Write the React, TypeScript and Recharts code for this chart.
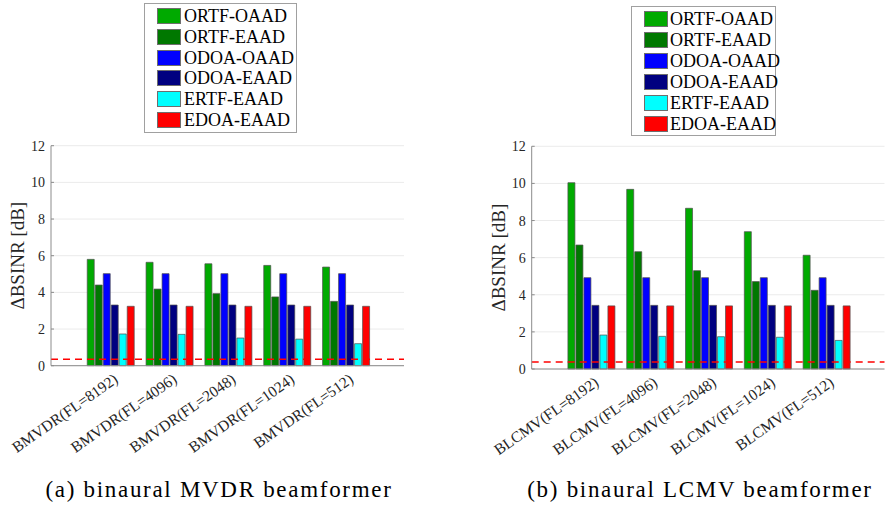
import { Bar, BarChart, CartesianGrid, Label, ReferenceLine, XAxis, YAxis } from 'recharts';

const FONT = "'Liberation Serif', 'DejaVu Serif', serif";

const seriesKeys = ['ortfOaad', 'ortfEaad', 'odoaOaad', 'odoaEaad', 'ertfEaad', 'edoaEaad'];
const seriesNames = ['ORTF-OAAD', 'ORTF-EAAD', 'ODOA-OAAD', 'ODOA-EAAD', 'ERTF-EAAD', 'EDOA-EAAD'];
const seriesColors = ['#00aa00', '#007800', '#0000ff', '#000080', '#00ffff', '#ff0000'];

const yTicks = [0, 2, 4, 6, 8, 10, 12];

// (a) binaural MVDR
const mvdrCategories = ['BMVDR(FL=8192)', 'BMVDR(FL=4096)', 'BMVDR(FL=2048)', 'BMVDR(FL=1024)', 'BMVDR(FL=512)'];
const mvdrOrtfOaad = [5.8, 5.64, 5.56, 5.47, 5.38];
const mvdrOrtfEaad = [4.4, 4.18, 3.93, 3.75, 3.51];
const mvdrOdoaOaad = [5.02, 5.02, 5.02, 5.02, 5.02];
const mvdrOdoaEaad = [3.31, 3.31, 3.31, 3.31, 3.31];
const mvdrErtfEaad = [1.73, 1.71, 1.51, 1.45, 1.2];
const mvdrEdoaEaad = [3.24, 3.24, 3.24, 3.24, 3.24];
const mvdrBaseline = 0.35;

// (b) binaural LCMV
const lcmvCategories = ['BLCMV(FL=8192)', 'BLCMV(FL=4096)', 'BLCMV(FL=2048)', 'BLCMV(FL=1024)', 'BLCMV(FL=512)'];
const lcmvOrtfOaad = [10.04, 9.68, 8.66, 7.4, 6.13];
const lcmvOrtfEaad = [6.68, 6.32, 5.3, 4.71, 4.24];
const lcmvOdoaOaad = [4.92, 4.92, 4.92, 4.92, 4.92];
const lcmvOdoaEaad = [3.43, 3.43, 3.43, 3.43, 3.43];
const lcmvErtfEaad = [1.83, 1.76, 1.74, 1.71, 1.54];
const lcmvEdoaEaad = [3.4, 3.4, 3.4, 3.4, 3.4];
const lcmvBaseline = 0.38;

function buildRows(categories: string[], values: number[][]) {
  return categories.map((name, i) => {
    const row: Record<string, string | number> = { name };
    seriesKeys.forEach((k, j) => {
      row[k] = values[j][i];
    });
    return row;
  });
}

const mvdrRows = buildRows(mvdrCategories, [mvdrOrtfOaad, mvdrOrtfEaad, mvdrOdoaOaad, mvdrOdoaEaad, mvdrErtfEaad, mvdrEdoaEaad]);
const lcmvRows = buildRows(lcmvCategories, [lcmvOrtfOaad, lcmvOrtfEaad, lcmvOdoaOaad, lcmvOdoaEaad, lcmvErtfEaad, lcmvEdoaEaad]);

function SlantTick({ x, y, payload }: any) {
  const ax = x + 3;
  const ay = y + 7;
  return (
    <text
      x={ax}
      y={ay}
      dy="0.7em"
      transform={`rotate(-35, ${ax}, ${ay})`}
      textAnchor="end"
      style={{ fontFamily: FONT }}
      fontSize={15.5}
      fill="#262626"
    >
      {payload.value}
    </text>
  );
}

type PanelProps = {
  rows: Record<string, string | number>[];
  baseline: number;
  left: number;
  width: number;
  axisWidth: number;
  plotTop: number;
  plotBottom: number;
  marginRight: number;
};

function Panel({ rows, baseline, left, width, axisWidth, plotTop, plotBottom, marginRight }: PanelProps) {
  return (
    <div style={{ position: 'absolute', left, top: 0 }}>
      <BarChart
        width={width}
        height={508}
        data={rows}
        margin={{ top: plotTop, right: marginRight, bottom: 0, left: 0 }}
        barCategoryGap="11.6%"
        barGap={1}
        style={{ fontFamily: FONT }}
      >
        <CartesianGrid vertical={false} stroke="#ebebeb" />
        <XAxis
          dataKey="name"
          interval={0}
          height={508 - plotBottom}
          padding={{ left: 29.4, right: 29.4 }}
          axisLine={{ stroke: '#8c8c8c' }}
          tickLine={false}
          tickSize={0}
          tickMargin={0}
          tick={<SlantTick />}
        />
        <YAxis
          width={axisWidth}
          domain={[0, 12]}
          ticks={yTicks}
          interval={0}
          axisLine={{ stroke: '#8c8c8c' }}
          tickLine={{ stroke: '#8c8c8c' }}
          tickSize={-3}
          tickMargin={9}
          tick={{ fontSize: 14, fill: '#262626', style: { fontFamily: FONT } }}
        >
          <Label
            content={({ viewBox }: any) => {
              const cx = viewBox.x + viewBox.width - 33;
              const cy = viewBox.y + viewBox.height / 2;
              return (
                <text
                  x={cx}
                  y={cy}
                  transform={`rotate(-90, ${cx}, ${cy})`}
                  textAnchor="middle"
                  dominantBaseline="central"
                  style={{ fontFamily: FONT }}
                  fontSize={19}
                  fill="#262626"
                >
                  ΔBSINR [dB]
                </text>
              );
            }}
          />
        </YAxis>
        {seriesKeys.map((k, i) => (
          <Bar
            key={k}
            dataKey={k}
            name={seriesNames[i]}
            fill={seriesColors[i]}
            stroke="#4d4d4d"
            strokeWidth={0.7}
            isAnimationActive={false}
          />
        ))}
        <ReferenceLine y={baseline} stroke="#ff0000" strokeWidth={1.5} strokeDasharray="7 5" />
      </BarChart>
    </div>
  );
}

function LegendBox({ left, top, width, height, pitch, textGap }: { left: number; top: number; width: number; height: number; pitch: number; textGap: number }) {
  return (
    <div
      style={{
        position: 'absolute',
        left,
        top,
        width,
        height,
        boxSizing: 'border-box',
        border: '1px solid #a0a0a0',
        background: '#fff',
      }}
    >
      {seriesNames.map((n, i) => (
        <div
          key={n}
          style={{
            position: 'absolute',
            left: 12,
            top: 4 + i * pitch,
            height: 16,
            display: 'flex',
            alignItems: 'center',
            whiteSpace: 'nowrap',
          }}
        >
          <div
            style={{
              width: 24,
              height: 16,
              boxSizing: 'border-box',
              border: '1px solid #6e6e6e',
              background: seriesColors[i],
              marginRight: textGap,
            }}
          />
          <span style={{ fontFamily: FONT, fontSize: 18, color: '#000', lineHeight: '16px' }}>{n}</span>
        </div>
      ))}
    </div>
  );
}

export default function App() {
  return (
    <div style={{ position: 'absolute', left: 0, top: 0, width: 885, height: 508, background: '#fff', overflow: 'hidden', fontFamily: FONT }}>
      <Panel rows={mvdrRows} baseline={mvdrBaseline} left={0} width={442} axisWidth={51} plotTop={145.7} plotBottom={365.7} marginRight={38} />
      <Panel rows={lcmvRows} baseline={lcmvBaseline} left={442} width={443} axisWidth={89.7} plotTop={146.3} plotBottom={369} marginRight={0.5} />
      <LegendBox left={144} top={3} width={153} height={130} pitch={20.8} textGap={3} />
      <LegendBox left={631} top={6} width={145} height={130} pitch={20.9} textGap={2} />
      <svg width={885} height={508} style={{ position: 'absolute', left: 0, top: 0, pointerEvents: 'none', fontFamily: FONT }}>
        <text x={219} y={497} textAnchor="middle" fontSize={23} letterSpacing={1.7} fill="#000">
          (a) binaural MVDR beamformer
        </text>
        <text x={700} y={497} textAnchor="middle" fontSize={23} letterSpacing={1.7} fill="#000">
          (b) binaural LCMV beamformer
        </text>
      </svg>
    </div>
  );
}
